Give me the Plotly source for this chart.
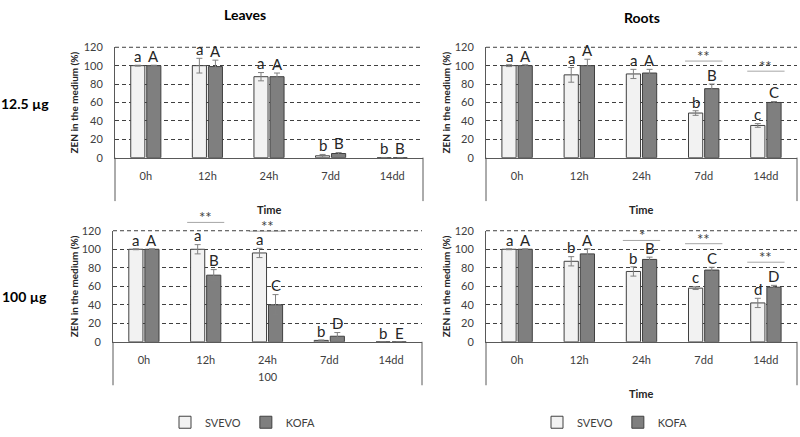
import plotly.graph_objects as go

times = ['0h', '12h', '24h', '7dd', '14dd']

# Leaves, 12.5 ug
leaves_low_svevo = [100, 100, 88, 2, 0]
leaves_low_svevo_err = [0.5, 8, 4.5, 1.5, 0]
leaves_low_kofa = [100, 99, 88, 4.5, 0]
leaves_low_kofa_err = [0.5, 7, 4, 1, 0]
leaves_low_let_svevo = ['a', 'a', 'a', 'b', 'b']
leaves_low_let_kofa = ['A', 'A', 'A', 'B', 'B']
leaves_low_sig = []

# Roots, 12.5 ug
roots_low_svevo = [100, 90, 91, 48.5, 35]
roots_low_svevo_err = [1, 8, 5, 2.5, 2]
roots_low_kofa = [100, 100, 92, 75, 60]
roots_low_kofa_err = [1, 7, 4, 5, 1]
roots_low_let_svevo = ['a', 'a', 'a', 'b', 'c']
roots_low_let_kofa = ['A', 'A', 'A', 'B', 'C']
roots_low_sig = [(3, 105, '**'), (4, 94, '**')]

# Leaves, 100 ug
leaves_high_svevo = [100, 100, 96, 1.5, 0]
leaves_high_svevo_err = [0.5, 5, 5, 0.5, 0]
leaves_high_kofa = [100, 72, 40, 6, 0]
leaves_high_kofa_err = [0.5, 6, 11, 4, 0]
leaves_high_let_svevo = ['a', 'a', 'a', 'b', 'b']
leaves_high_let_kofa = ['A', 'B', 'C', 'D', 'E']
leaves_high_sig = [(1, 129, '**'), (2, 119.5, '**')]

# Roots, 100 ug
roots_high_svevo = [100, 87, 76, 58, 42]
roots_high_svevo_err = [0.5, 5, 5, 1.5, 5]
roots_high_kofa = [100, 95, 89, 77.5, 59]
roots_high_kofa_err = [0.5, 5.5, 2.5, 3, 2]
roots_high_let_svevo = ['a', 'b', 'b', 'c', 'd']
roots_high_let_kofa = ['A', 'A', 'B', 'C', 'D']
roots_high_sig = [(2, 109.5, '*'), (3, 106, '**'), (4, 86, '**')]

W, H = 800, 437
YMAX = 120
FONT = 'Lato'
TXT = '#404040'

panels = [
    ('', leaves_low_svevo, leaves_low_svevo_err, leaves_low_kofa, leaves_low_kofa_err,
     leaves_low_let_svevo, leaves_low_let_kofa, leaves_low_sig, None),
    ('2', roots_low_svevo, roots_low_svevo_err, roots_low_kofa, roots_low_kofa_err,
     roots_low_let_svevo, roots_low_let_kofa, roots_low_sig, None),
    ('3', leaves_high_svevo, leaves_high_svevo_err, leaves_high_kofa, leaves_high_kofa_err,
     leaves_high_let_svevo, leaves_high_let_kofa, leaves_high_sig, 'legend'),
    ('4', roots_high_svevo, roots_high_svevo_err, roots_high_kofa, roots_high_kofa_err,
     roots_high_let_svevo, roots_high_let_kofa, roots_high_sig, 'legend2'),
]

# pixel boxes of the plot areas (left, right, top, bottom) and y-title x position
boxes = {'': (115, 423, 41.7, 156, 74), '2': (486, 797, 41.7, 156, 446),
         '3': (113, 422, 231.7, 346.7, 74), '4': (486, 797, 231.7, 346.7, 446)}

BARGAP = 0.48
fig = go.Figure()
annotations = []
shapes = []

for sfx, sv, sv_e, kf, kf_e, let_s, let_k, sig, leg in panels:
    xa, ya = 'x' + sfx, 'y' + sfx
    show = leg is not None
    fig.add_trace(go.Bar(
        x=times, y=sv, name='SVEVO', xaxis=xa, yaxis=ya,
        marker=dict(color='#f2f2f2', line=dict(color='#404040', width=1)),
        error_y=dict(type='data', array=sv_e, color='#808080', thickness=1, width=3),
        showlegend=show, legend=leg if show else 'legend'))
    fig.add_trace(go.Bar(
        x=times, y=kf, name='KOFA', xaxis=xa, yaxis=ya,
        marker=dict(color='#7f7f7f', line=dict(color='#404040', width=1)),
        error_y=dict(type='data', array=kf_e, color='#808080', thickness=1, width=3),
        showlegend=show, legend=leg if show else 'legend'))

    off = (1 - BARGAP) / 4
    for i in range(len(times)):
        for val, err, lab, dx in ((sv[i], sv_e[i], let_s[i], -off), (kf[i], kf_e[i], let_k[i], off)):
            annotations.append(dict(
                x=i + dx, y=val + err + 10, xref=xa, yref=ya, text=lab, showarrow=False,
                yanchor='middle', borderpad=0,
                font=dict(size=15, color='#262626', family=FONT)))

    for i, h, txt in sig:
        shapes.append(dict(type='line', xref=xa + ' domain', yref=ya + ' domain',
                           x0=(i + 0.2) / len(times), x1=(i + 0.8) / len(times),
                           y0=h / YMAX, y1=h / YMAX, line=dict(color='#a6a6a6', width=1)))
        annotations.append(dict(x=(i + 0.5) / len(times), y=h / YMAX,
                                xref=xa + ' domain', yref=ya + ' domain',
                                text=txt, showarrow=False, xanchor='center',
                                yanchor='bottom', yshift=-5, borderpad=0,
                                font=dict(size=15, color=TXT, family=FONT)))

    l, r, t, b, tx = boxes[sfx]
    # top dashed border at 120 (plotly drops the gridline at the range end)
    shapes.append(dict(type='line', xref=xa + ' domain', yref=ya + ' domain',
                       x0=0, x1=1, y0=1, y1=1,
                       line=dict(color='#404040', width=1, dash='4px,3px')))
    ext = -45 / (b - t)
    for xd in (0, 1):
        shapes.append(dict(type='line', xref=xa + ' domain', yref=ya + ' domain',
                           x0=xd, x1=xd, y0=ext, y1=0, line=dict(color='#595959', width=1)))

    axis_x = dict(domain=[l / W, r / W], anchor=ya, showline=True, linecolor='#595959',
                  linewidth=1, showgrid=False, ticks='', ticklabelstandoff=8,
                  tickfont=dict(size=11, color=TXT, family=FONT), fixedrange=True)
    axis_y = dict(domain=[1 - b / H, 1 - t / H], anchor=xa, range=[0, YMAX], dtick=20,
                  showline=True, linecolor='#595959', linewidth=1, showgrid=True,
                  gridcolor='#404040', griddash='4px,3px', gridwidth=1, zeroline=False,
                  ticks='', ticklabelstandoff=9,
                  tickfont=dict(size=11, color=TXT, family=FONT), fixedrange=True)
    fig.update_layout(**{'xaxis' + sfx: axis_x, 'yaxis' + sfx: axis_y})

    annotations.append(dict(x=tx / W, y=1 - (t + b) / 2 / H, xref='paper', yref='paper',
                            text='<b>ZEN in the medium (%)</b>', textangle=-90,
                            showarrow=False, xanchor='center', yanchor='middle',
                            font=dict(size=10, color='#262626', family=FONT)))


def label(text, x, y, size=11, color=TXT, bold=False):
    annotations.append(dict(x=x / W, y=1 - y / H, xref='paper', yref='paper',
                            text='<b>%s</b>' % text if bold else text, showarrow=False,
                            xanchor='center', yanchor='middle',
                            font=dict(size=size, color=color, family=FONT)))


label('Leaves', 245, 8, 14, '#000000', True)
label('Roots', 642, 11, 14, '#000000', True)
label('12.5 µg', 25, 100, 14, '#000000', True)
label('100 µg', 24, 300, 14, '#000000', True)
label('Time', 269, 210, 11, '#262626', True)
label('Time', 641, 210, 11, '#262626', True)
label('Time', 641, 400, 11, '#262626', True)
label('100', 268, 383, 11, TXT)

legend_style = dict(orientation='h', xanchor='center', yanchor='middle', y=1 - 430 / H,
                    font=dict(size=11, color=TXT, family=FONT), itemwidth=30,
                    bgcolor='rgba(0,0,0,0)', tracegroupgap=0)

fig.update_layout(
    width=W, height=H, margin=dict(l=0, r=0, t=0, b=0),
    paper_bgcolor='#ffffff', plot_bgcolor='#ffffff',
    barmode='group', bargap=BARGAP, bargroupgap=0.12,
    font=dict(family=FONT, color=TXT),
    legend=dict(x=243 / W, **legend_style),
    legend2=dict(x=615 / W, **legend_style),
    annotations=annotations, shapes=shapes,
)

# page has a default 8px body margin; drop it so the figure fills the window
fig.write_html('out.html', config={'displayModeBar': False},
               post_script="document.body.style.margin='0px';")
